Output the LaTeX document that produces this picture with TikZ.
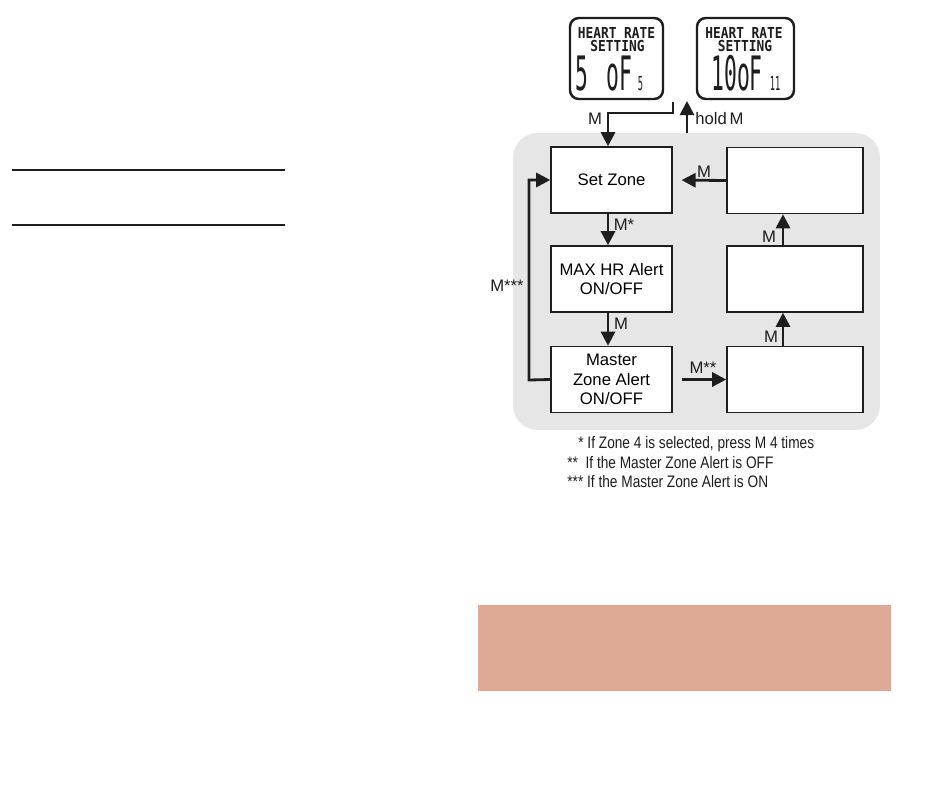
\documentclass[tikz,border=0pt]{standalone}
\usepackage{fontspec}
\setmainfont{Liberation Sans}
\newfontfamily\notefont[FakeStretch=0.82]{Liberation Sans}
\newfontfamily\lcdsmall[FakeStretch=0.85]{DejaVu Sans Mono Bold}
\newfontfamily\lcdbig[FakeStretch=0.45]{DejaVu Sans Mono}
\usetikzlibrary{arrows.meta}
\definecolor{panelgray}{RGB}{230,230,230}
\definecolor{peach}{RGB}{222,170,150}
\definecolor{ink}{RGB}{30,30,30}

\begin{document}
\begin{tikzpicture}[x=0.02cm, y=-0.02cm,
  box/.style={draw=ink, line width=0.9pt, fill=white, minimum width=2.42cm,
              minimum height=1.32cm, align=center, inner sep=0pt,
              font=\fontsize{9.5}{11}\selectfont},
  rbox/.style={box, minimum width=2.72cm},
  lcd/.style={draw=ink, line width=1.4pt, rounded corners=5pt, fill=white,
              minimum height=1.62cm, inner sep=0pt},
  lcdtop/.style={font=\lcdsmall\fontsize{8.6}{9}\selectfont, inner sep=0pt,
                 text height=6.2pt, text depth=0pt, text=ink},
  lcdnum/.style={font=\lcdbig\fontsize{27}{27}\selectfont, inner sep=0pt,
                 anchor=base west, text=ink},
  flow/.style={-{Triangle[length=8pt,width=8pt]}, line width=1.6pt, ink},
  lbl/.style={font=\fontsize{9.5}{11}\selectfont, text=ink, inner sep=0pt},
  note/.style={font=\notefont\fontsize{9.5}{11}\selectfont, text=ink,
               anchor=west, inner sep=0pt}
]
  \useasboundingbox (0,0) rectangle (950,788);

  % Linien links
  \draw[line width=0.9pt, ink] (12,170) -- (285,170);
  \draw[line width=0.9pt, ink] (12,225) -- (285,225);

  % Anzeigen
  \node[lcd, minimum width=1.86cm] (lcd1) at (616.5,58.5) {};
  \node[lcdtop] (lcd1a) at (616.5,33.5) {HEART RATE};
  \node[lcdtop] (lcd1b) at (617.5,46) {SETTING};
  \node[lcdnum] (lcd1c) at (575,90)
    {\makebox[18pt][l]{5}oF\hspace{3pt}{\fontsize{11}{11}\selectfont 5}};

  \node[lcd, minimum width=1.94cm] (lcd2) at (745.5,58.5) {};
  \node[lcdtop] (lcd2a) at (744,33.5) {HEART RATE};
  \node[lcdtop] (lcd2b) at (745,46) {SETTING};
  \node[lcdnum] (lcd2c) at (711,90)
    {10oF\hspace{4pt}{\fontsize{11}{11}\selectfont 11}};

  % Hintergrund
  \node[fill=panelgray, rounded corners=14pt, minimum width=7.34cm,
        minimum height=5.94cm, inner sep=0pt] (panel) at (696.5,281.5) {};

  % Linke Spalte
  \node[box] (setzone) at (611.5,180) {Set Zone};
  \node[box] (maxhr) at (611.5,279) {MAX HR Alert\\ON/OFF};
  \node[box] (master) at (611.5,379.5) {Master\\Zone Alert\\ON/OFF};

  % Rechte Spalte
  \node[rbox] (r1) at (795,180.5) {};
  \node[rbox] (r2) at (795,279) {};
  \node[rbox] (r3) at (795,379.5) {};

  % Pfeile
  \coordinate (c1) at (673,102);
  \coordinate (c2) at (687,101);
  \draw[flow] (c1) -- (673,113) -| (setzone.north -| 608,0);
  \draw[flow] (panel.north -| c2) -- (c2);
  \draw[flow] (setzone.south -| 608,0) -- (maxhr.north -| 608,0);
  \draw[flow] (maxhr.south -| 608,0) -- (master.north -| 608,0);
  \draw[flow, shorten <=5pt] (master.east) -- (r3.west);
  \draw[flow] (r3.north -| 783,0) -- (r2.south -| 783,0);
  \draw[flow] (r2.north -| 783,0) -- (r1.south -| 783,0);
  \draw[flow, shorten >=5pt] (r1.west) -- (setzone.west -| setzone.east);
  \draw[flow] (master.west) -- (529,380) |- (setzone.west);

  % Beschriftungen
  \node[lbl] (lm1) at (595,119) {M};
  \node[lbl, anchor=west] (lhold) at (695,119) {hold\,M};
  \node[lbl] (lm2) at (624,225) {M*};
  \node[lbl] (lm3) at (621,324) {M};
  \node[lbl] (lm4) at (703,368) {M**};
  \node[lbl] (lm5) at (771,337) {M};
  \node[lbl] (lm6) at (769,237) {M};
  \node[lbl] (lm7) at (704,172) {M};
  \node[lbl] (lm8) at (507,286) {M***};

  % Fussnoten
  \node[note] (n1) at (578,444) {* If Zone 4 is selected, press M 4 times};
  \node[note] (n2) at (567,463) {**\ \ If the Master Zone Alert is OFF};
  \node[note] (n3) at (567,482) {*** If the Master Zone Alert is ON};

  % Farbfeld
  \node[fill=peach, minimum width=8.26cm, minimum height=1.72cm,
        inner sep=0pt] (band) at (684.5,648) {};
\end{tikzpicture}
\end{document}
